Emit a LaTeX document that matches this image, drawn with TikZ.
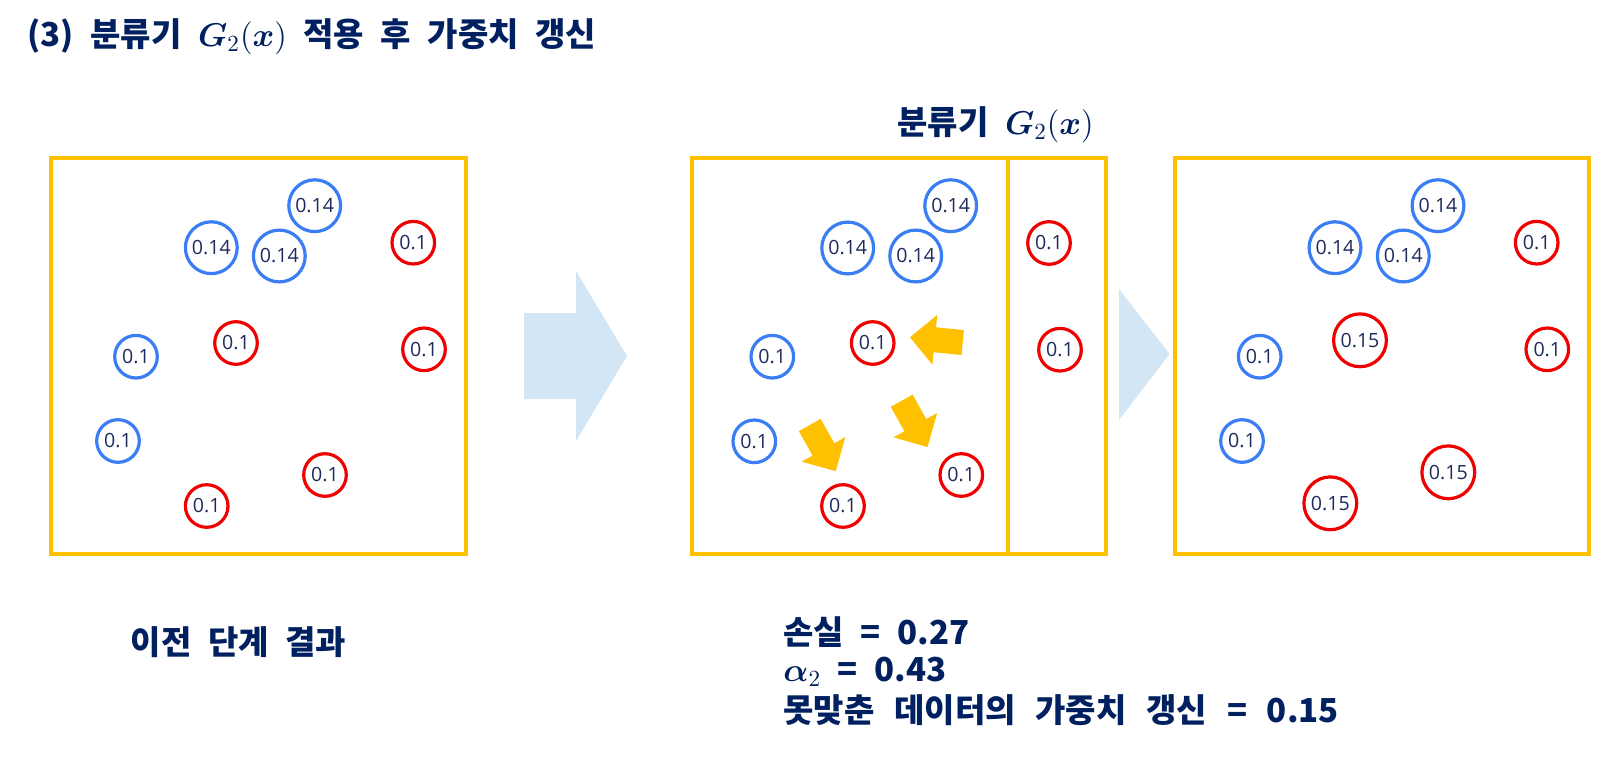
\RequirePackage{fix-cm}
\documentclass[tikz,border=0pt]{standalone}
\usepackage{amsmath,bm}
\usepackage{fontspec}
\newfontfamily\krfont{Noto Sans CJK KR}[WordSpace=2.2]
\newfontfamily\numfont{Open Sans}
\definecolor{navy}{HTML}{002060}
\definecolor{cnum}{HTML}{1E2B5C}
\definecolor{cblue}{HTML}{3A7DF5}
\definecolor{cred}{HTML}{F00000}
\definecolor{cyel}{HTML}{FFC000}
\definecolor{clb}{HTML}{D3E6F5}
\tikzset{
  dot/.style={circle, line width=1.6pt, inner sep=0pt, text=cnum,
    font=\numfont\fontsize{9.8}{11}\selectfont},
  bc/.style={dot, draw=cblue},
  rc/.style={dot, draw=cred},
  sz14/.style={minimum size=25.9pt},
  sz10/.style={minimum size=21.3pt},
  sz15/.style={minimum size=26.4pt},
  frame/.style={draw=cyel, line width=2pt},
  lbl/.style={inner sep=0pt, text=navy, font=\krfont\bfseries\fontsize{16.5}{20}\selectfont},
}
\newcommand\gap{\hspace{1.6pt} }
\newcommand\yelarrow[3]{%
  \begin{scope}[shift={(#1,#2)},rotate=#3]
    \fill[cyel] (0,-12.5) -- (28,-12.5) -- (28,-25) -- (53,0) -- (28,25) -- (28,12.5) -- (0,12.5) -- cycle;
  \end{scope}}
\begin{document}
\begin{tikzpicture}[x=0.5pt,y=-0.5pt]
\useasboundingbox (0,0) rectangle (1612,760);
\fill[white] (0,0) rectangle (1612,760);

% title
\node[lbl, anchor=west] (title) at (27,37) {(3) 분류기 $\boldsymbol{G}_2(\boldsymbol{x})$ 적용 후 가중치 갱신};

% frames
\draw[frame] (51,158) rectangle (466,554);
\draw[frame] (692,158) rectangle (1106,554);
\draw[frame] (1008,158) -- (1008,554);
\draw[frame] (1175,158) rectangle (1589,554);

% big arrows
\fill[clb] (524,313) -- (576,313) -- (576,271) -- (627,356) -- (576,441) -- (576,399) -- (524,399) -- cycle;
\fill[clb] (1119,289) -- (1169.5,354) -- (1119,420) -- cycle;

% box 1
\node[bc, sz14] (a1) at (314.7,205.7) {0.14};
\node[bc, sz14] (a2) at (211.3,247.7) {0.14};
\node[bc, sz14] (a3) at (279.3,256) {0.14};
\node[rc, sz10] (a4) at (413.3,242.7) {0.1};
\node[rc, sz10] (a5) at (236,343) {0.1};
\node[rc, sz10] (a6) at (424,349.3) {0.1};
\node[bc, sz10] (a7) at (136,356.7) {0.1};
\node[bc, sz10] (a8) at (118,441) {0.1};
\node[rc, sz10] (a9) at (325,475) {0.1};
\node[rc, sz10] (a10) at (206.7,506) {0.1};

% box 2
\node[lbl] (g2) at (995.5,125) {분류기 $\boldsymbol{G}_2(\boldsymbol{x})$};
\node[bc, sz14] (b1) at (950.7,205.7) {0.14};
\node[bc, sz14] (b2) at (847.7,248) {0.14};
\node[bc, sz14] (b3) at (915.7,256) {0.14};
\node[rc, sz10] (b4) at (1049,243) {0.1};
\node[rc, sz10] (b5) at (1060,349.7) {0.1};
\node[rc, sz10] (b6) at (872.7,343) {0.1};
\node[bc, sz10] (b7) at (772.3,356.7) {0.1};
\node[bc, sz10] (b8) at (754.3,441.3) {0.1};
\node[rc, sz10] (b9) at (961.3,475) {0.1};
\node[rc, sz10] (b10) at (843,506) {0.1};
\yelarrow{962.7}{342.5}{174.4}
\yelarrow{901.7}{400.7}{-60.9}
\yelarrow{809.7}{425}{-60.5}

% box 3
\node[bc, sz14] (c1) at (1438,205.7) {0.14};
\node[bc, sz14] (c2) at (1335,247.7) {0.14};
\node[bc, sz14] (c3) at (1403.3,256) {0.14};
\node[rc, sz10] (c4) at (1536.7,242.7) {0.1};
\node[rc, sz15] (c5) at (1360,340.3) {0.15};
\node[rc, sz10] (c6) at (1547.3,349.3) {0.1};
\node[bc, sz10] (c7) at (1259.7,356.7) {0.1};
\node[bc, sz10] (c8) at (1242,441) {0.1};
\node[rc, sz15] (c9) at (1448.3,472.3) {0.15};
\node[rc, sz15] (c10) at (1330.3,503.3) {0.15};

% bottom texts
\node[lbl] (prev) at (238.5,642) {이전 단계 결과};
\node[lbl, anchor=west] (loss) at (783,632) {손실 = 0.27};
\node[lbl, anchor=west] (alpha) at (783,672) {$\boldsymbol{\alpha}_2$ = 0.43};
\node[lbl, anchor=west] (upd) at (783,710) {못맞춘\gap 데이터의\gap 가중치\gap 갱신\gap =\gap 0.15};
\end{tikzpicture}
\end{document}
